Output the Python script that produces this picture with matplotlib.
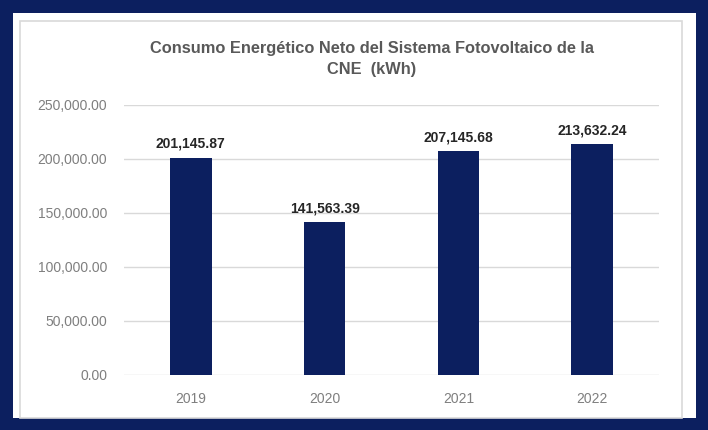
import matplotlib
matplotlib.use("Agg")
import matplotlib.pyplot as plt
from matplotlib.patches import Rectangle
from matplotlib.ticker import FuncFormatter

years = ["2019", "2020", "2021", "2022"]
values = [201145.87, 141563.39, 207145.68, 213632.24]
yticks = [0, 50000, 100000, 150000, 200000, 250000]
title = "Consumo Energético Neto del Sistema Fotovoltaico de la\nCNE  (kWh)"

W, H = 708, 430
navy = "#0c1f5f"
fig = plt.figure(figsize=(W / 100, H / 100), dpi=100)
fig.patch.set_facecolor("white")

# outer navy frame
fig.patches.append(Rectangle((0, 0), 1, 1, transform=fig.transFigure,
                             facecolor="none", edgecolor=navy, linewidth=18, zorder=0))
# light chart-area border
fig.patches.append(Rectangle((20 / W, 1 - 418 / H), (682 - 20) / W, (418 - 21) / H,
                             transform=fig.transFigure, facecolor="none",
                             edgecolor="#d9d9d9", linewidth=1.2, zorder=0))

ax = fig.add_axes([124 / W, 1 - 375 / H, (659 - 124) / W, (375 - 105) / H])
x = range(len(years))
bars = ax.bar(x, values, width=0.31, color=navy, zorder=3)
ax.set_ylim(0, 250000)
ax.set_xlim(-0.5, len(years) - 0.5)
ax.set_yticks(yticks)
ax.yaxis.set_major_formatter(FuncFormatter(lambda v, p: f"{v:,.2f}"))
ax.set_xticks(list(x))
ax.set_xticklabels(years)
ax.grid(axis="y", color="#d9d9d9", linewidth=1, zorder=0)
for s in ax.spines.values():
    s.set_visible(False)
ax.tick_params(axis="both", length=0, colors="#7f7f7f", labelsize=10)
ax.tick_params(axis="y", pad=12)
ax.tick_params(axis="x", pad=12)
for lab in ax.get_xticklabels() + ax.get_yticklabels():
    lab.set_fontfamily("Liberation Sans")

for b, v in zip(bars, values):
    ax.annotate(f"{v:,.2f}", (b.get_x() + b.get_width() / 2, v),
                xytext=(0, 5), textcoords="offset points", ha="center", va="bottom",
                fontsize=10, fontweight="bold", color="#262626", family="Liberation Sans")

fig.text(372 / W, 1 - 59 / H, title, ha="center", va="center", fontsize=11.8,
         fontweight="bold", color="#595959", family="Liberation Sans", linespacing=1.55)

fig.savefig("out.png", dpi=100)
